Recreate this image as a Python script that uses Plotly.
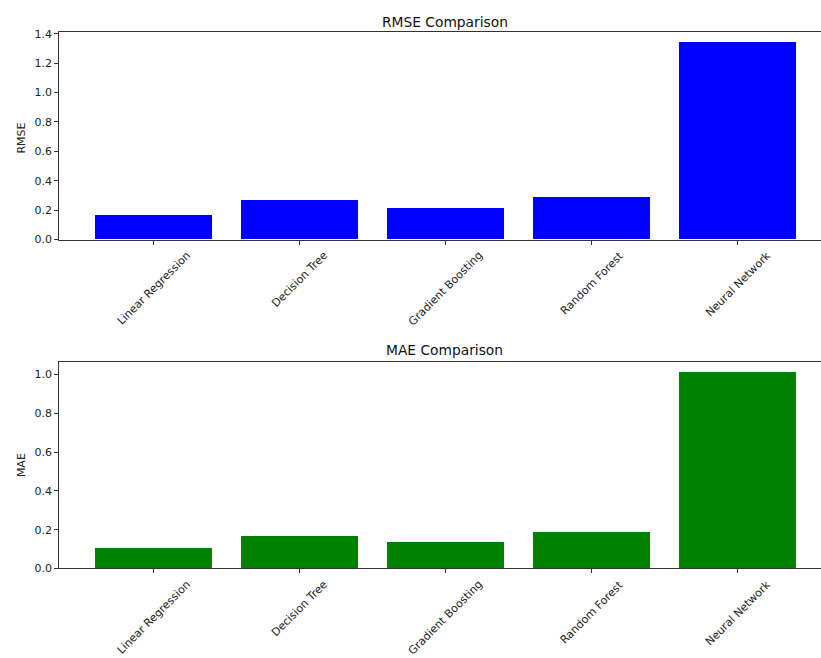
import plotly.graph_objects as go

models = ["Linear Regression", "Decision Tree", "Gradient Boosting", "Random Forest", "Neural Network"]
rmse = [0.165, 0.263, 0.211, 0.286, 1.341]
mae = [0.103, 0.168, 0.134, 0.186, 1.010]
rmse_ticks = [0.0, 0.2, 0.4, 0.6, 0.8, 1.0, 1.2, 1.4]
mae_ticks = [0.0, 0.2, 0.4, 0.6, 0.8, 1.0]

W, H = 821, 658
FONT = "DejaVu Sans"
xpos = list(range(len(models)))
# vertical compensation for the capture (observed out = 0.981*y + 4.94)
VS, VB = 0.981, 4.94

def py(p):
    return 1 - ((p - VB) / VS) / H

def px(p):
    return p / W

fig = go.Figure()
fig.add_trace(go.Bar(x=xpos, y=rmse, width=0.8, marker=dict(color="#0000ff", line=dict(width=0)),
                     xaxis="x", yaxis="y", showlegend=False))
fig.add_trace(go.Bar(x=xpos, y=mae, width=0.8, marker=dict(color="#008000", line=dict(width=0)),
                     xaxis="x2", yaxis="y2", showlegend=False))

xdom = [px(59.3), 1.0]
xrange_ = [-0.646, (W - 153.67) / 146.0]
axis_common = dict(showgrid=False, zeroline=False, showline=True, linecolor="#333333", linewidth=1,
                   ticks="outside", ticklen=4, tickcolor="#333333", tickwidth=1,
                   tickfont=dict(family=FONT, size=11, color="#222222"))

fig.update_layout(
    width=W, height=H,
    margin=dict(l=0, r=0, t=0, b=0),
    paper_bgcolor="white", plot_bgcolor="white",
    bargap=0,
    xaxis=dict(domain=xdom, range=xrange_, anchor="y", tickvals=xpos, ticktext=[""] * len(models),
               mirror=True, **axis_common),
    yaxis=dict(domain=[py(239.3), py(32.3)], range=[0, 1.409], anchor="x", tickvals=rmse_ticks,
               tickformat=".1f", **axis_common),
    xaxis2=dict(domain=xdom, range=xrange_, anchor="y2", tickvals=xpos, ticktext=[""] * len(models),
                mirror=True, **axis_common),
    yaxis2=dict(domain=[py(568), py(362)], range=[0, 1.062], anchor="x2", tickvals=mae_ticks,
                tickformat=".1f", **axis_common),
)

anns = []
# titles
anns.append(dict(text="RMSE Comparison", x=px(444.8), y=py(21.5), xref="paper", yref="paper",
                 showarrow=False, xanchor="center", yanchor="middle",
                 font=dict(family=FONT, size=13.8, color="#111111")))
anns.append(dict(text="MAE Comparison", x=px(444.8), y=py(350), xref="paper", yref="paper",
                 showarrow=False, xanchor="center", yanchor="middle",
                 font=dict(family=FONT, size=13.8, color="#111111")))
# y labels
anns.append(dict(text="RMSE", x=px(21.7), y=py(137.7), xref="paper", yref="paper", textangle=-90,
                 showarrow=False, xanchor="center", yanchor="middle",
                 font=dict(family=FONT, size=11, color="#222222")))
anns.append(dict(text="MAE", x=px(21.7), y=py(465), xref="paper", yref="paper", textangle=-90,
                 showarrow=False, xanchor="center", yanchor="middle",
                 font=dict(family=FONT, size=11, color="#222222")))
# rotated category labels
for xr, ytop in (("x", 246), ("x2", 575)):
    for i, m in enumerate(models):
        anns.append(dict(text=m, x=i, y=py(ytop), xref=xr, yref="paper", textangle=-45,
                         showarrow=False, xanchor="center", yanchor="top",
                         font=dict(family=FONT, size=11, color="#222222")))
fig.update_layout(annotations=anns)

fig.write_html(
    "out.html",
    config={"displayModeBar": False},
    post_script="document.documentElement.style.margin='0';document.body.style.margin='0';"
                "document.body.style.overflow='hidden';",
)
